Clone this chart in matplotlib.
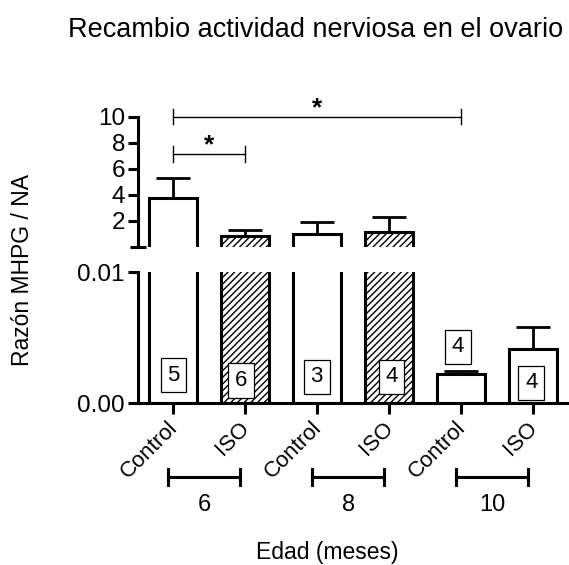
import matplotlib
matplotlib.use("Agg")
import matplotlib.pyplot as plt
from matplotlib.transforms import blended_transform_factory, ScaledTranslation
import numpy as np

plt.rcParams['font.family'] = ['Liberation Sans', 'DejaVu Sans']
plt.rcParams['hatch.linewidth'] = 1.0

# ---- data ----
ages = ["6", "8", "10"]
treatments = ["Control", "ISO", "Control", "ISO", "Control", "ISO"]
means = [3.76, 0.86, 0.99, 1.12, 0.00224, 0.00412]
sems = [1.53, 0.44, 0.94, 1.17, 0.00023, 0.0017]
n_animals = [5, 6, 3, 4, 4, 4]
hatched = [False, True, False, True, False, False]
# significant comparisons: (bar a, bar b)
comparisons = [(0, 1), (0, 4)]
comparison_marks = ["*", "*"]

# ---- layout ----
W, H = 569, 565
fig = plt.figure(figsize=(W / 100, H / 100), dpi=100)


def fig_rect(x0, y_top, x1, y_bot):
    return [x0 / W, (H - y_bot) / H, (x1 - x0) / W, (y_bot - y_top) / H]


ax_hi = fig.add_axes(fig_rect(137.5, 116.5, 568, 247))
ax_lo = fig.add_axes(fig_rect(137.5, 272.3, 568, 403.3))

x = np.arange(len(means))
bar_w = 0.67
lw = 2.2
lo_top = 0.01
hi_floor = -0.5

for ax in (ax_hi, ax_lo):
    ax.set_xlim(-0.49, 5.49)
    for s in ("top", "right"):
        ax.spines[s].set_visible(False)
    ax.spines["left"].set_linewidth(lw)
    ax.spines["bottom"].set_linewidth(lw)
    ax.tick_params(axis="y", width=lw, length=7, labelsize=17.5, pad=2)

ax_hi.spines["bottom"].set_visible(False)
ax_hi.set_ylim(0, 10)
ax_lo.set_ylim(0, lo_top)

# bars (upper segment only shows bars reaching above the lower segment)
for i in range(len(means)):
    h = "/////" if hatched[i] else None
    ax_lo.bar(x[i], means[i], width=bar_w, facecolor="white", edgecolor="black",
              linewidth=lw, hatch=h, zorder=2)
    if means[i] > lo_top:
        ax_hi.bar(x[i], means[i] - hi_floor, bottom=hi_floor, width=bar_w,
                  facecolor="white", edgecolor="black", linewidth=lw, hatch=h,
                  zorder=2)
        ax = ax_hi
    else:
        ax = ax_lo
    ax.errorbar(x[i], means[i], yerr=[[0], [sems[i]]], fmt="none", ecolor="black",
                elinewidth=2.0, capsize=12, capthick=2.0, zorder=3)

# y ticks
ax_hi.set_yticks([2, 4, 6, 8, 10])
ax_hi.set_yticklabels(["2", "4", "6", "8", "10"])
ax_hi.set_yticks([0], minor=True)
ax_hi.tick_params(axis="y", which="minor", direction="inout", length=12, width=lw)
ax_lo.set_yticks([0, 0.01])
ax_lo.set_yticklabels(["0.00", "0.01"])
ax_lo.set_yticks([0.01], minor=True)
ax_lo.tick_params(axis="y", which="minor", direction="in", length=5, width=lw)

# x ticks
ax_hi.set_xticks([])
ax_lo.set_xticks(x)
ax_lo.set_xticklabels(treatments, rotation=45, ha="right", va="top",
                      rotation_mode="anchor", fontsize=16)
ax_lo.tick_params(axis="x", width=lw, length=8, pad=4)
shift = ScaledTranslation(-4 / 72, 2 / 72, fig.dpi_scale_trans)
for lab in ax_lo.get_xticklabels():
    lab.set_transform(lab.get_transform() + shift)

# sample sizes in boxes
label_h = [0.00216, 0.00173, 0.00201, 0.00201, 0.00432, 0.00155]
label_dx = [0.01, -0.05, 0.0, 0.04, -0.04, -0.02]
for i, n in enumerate(n_animals):
    ax_lo.text(x[i] + label_dx[i], label_h[i], str(n), ha="center", va="center",
               fontsize=16, zorder=5,
               bbox=dict(boxstyle="square,pad=0.3", facecolor="white",
                         edgecolor="black", linewidth=0.9))

# significance brackets
bracket_y = [7.15, 10.0]
for (a, b), mark, yb in zip(comparisons, comparison_marks, bracket_y):
    ax_hi.plot([x[a], x[b]], [yb, yb], color="black", lw=1.0, clip_on=False)
    for xe in (x[a], x[b]):
        ax_hi.plot([xe, xe], [yb - 0.6, yb + 0.6], color="black", lw=1.0,
                   clip_on=False)
    ax_hi.annotate(mark, xy=((x[a] + x[b]) / 2, yb), xytext=(0, 1),
                   textcoords="offset points", ha="center", va="baseline",
                   fontsize=19, fontweight="bold", annotation_clip=False)

# age groups under the x axis
trans = blended_transform_factory(ax_lo.transData, fig.transFigure)
gy = (H - 476.7) / H
gtick = 8 / H
for g, age in enumerate(ages):
    x0 = x[2 * g] - 0.06
    x1 = x[2 * g + 1] - 0.06
    fig.add_artist(plt.Line2D([x0, x1], [gy, gy], transform=trans, color="black", lw=2.2))
    for xe in (x0, x1):
        fig.add_artist(plt.Line2D([xe, xe], [gy - gtick, gy + gtick], transform=trans,
                                  color="black", lw=2.2))
    fig.text((x0 + x1) / 2, (H - 505) / H, age, transform=trans, ha="center",
             va="center", fontsize=17)

fig.text(327 / W, (H - 552) / H, "Edad (meses)", ha="center", va="center", fontsize=16.5)
fig.text(23 / W, (H - 270) / H, "Razón MHPG / NA", rotation=90, ha="center",
         va="center", fontsize=16.5)
fig.text(316 / W, (H - 30) / H, "Recambio actividad nerviosa en el ovario",
         ha="center", va="center", fontsize=19.5)

fig.savefig("out.png", dpi=100)
